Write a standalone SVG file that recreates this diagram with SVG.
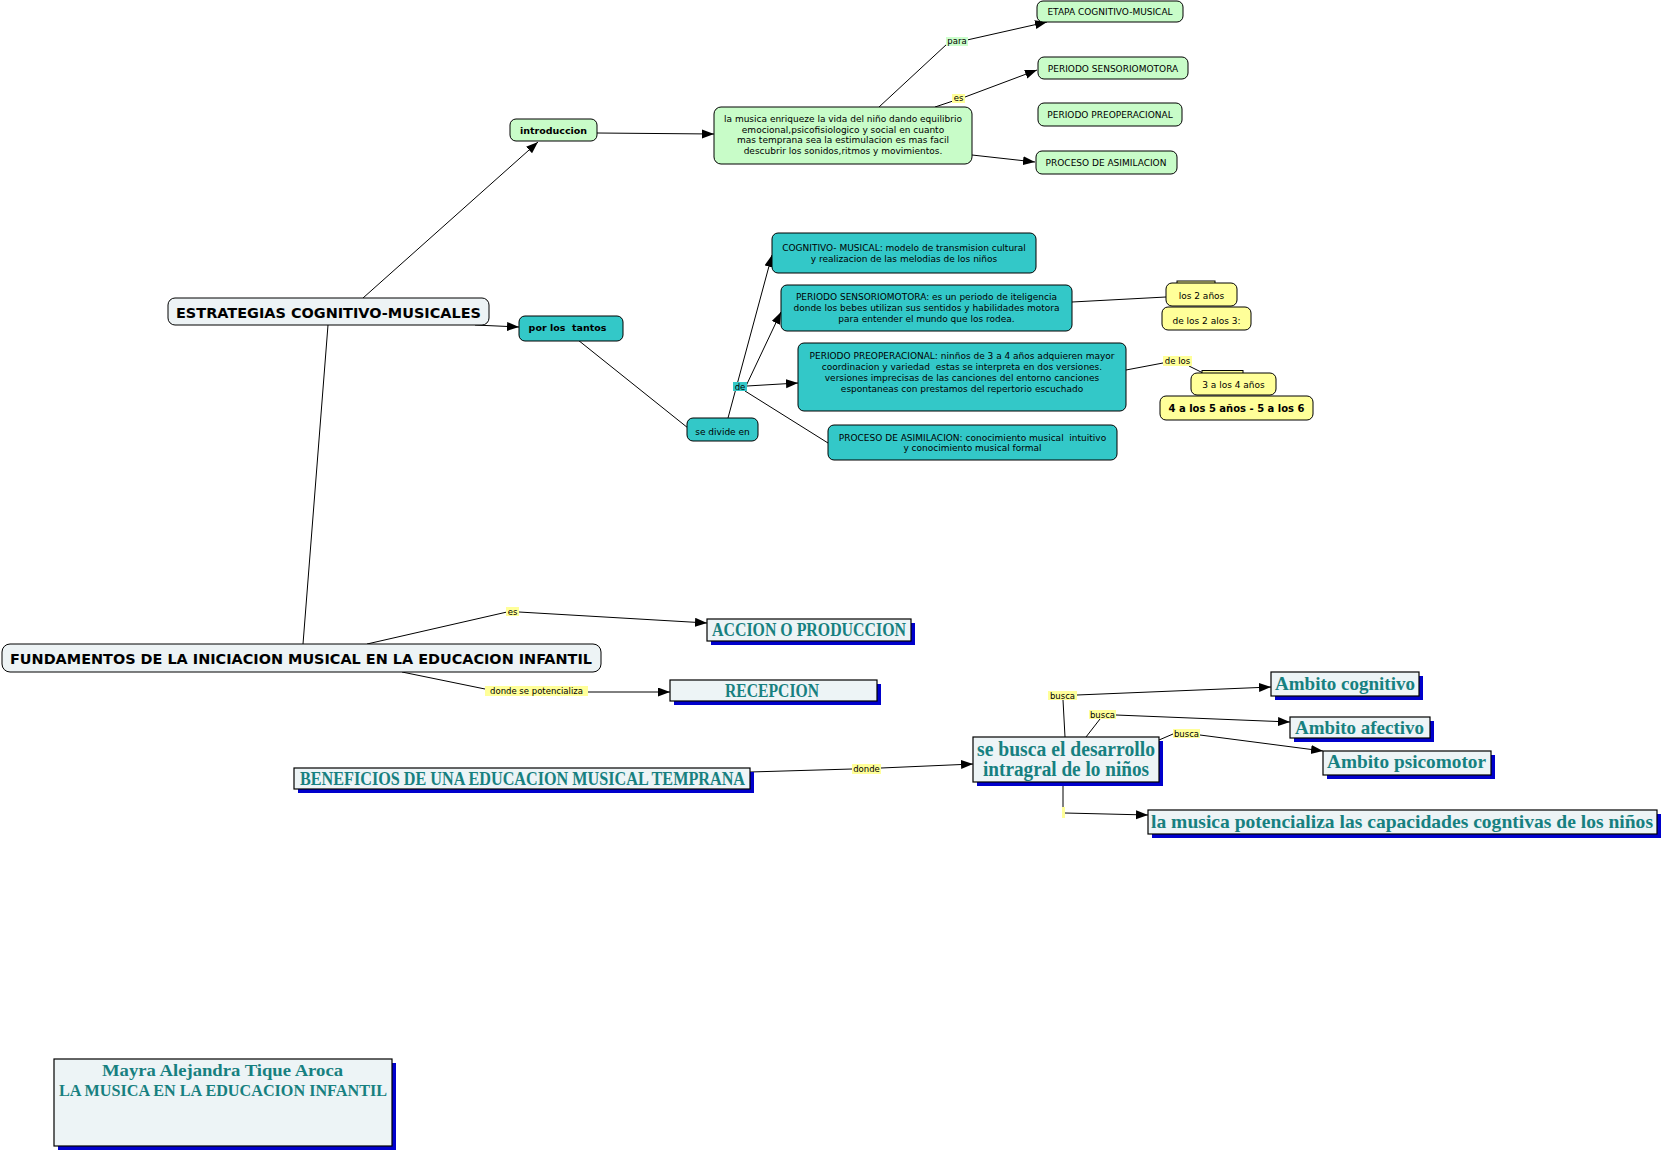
<svg xmlns="http://www.w3.org/2000/svg" width="1662" height="1153" viewBox="0 0 1662 1153">
<style>
.bg{fill:#ffffff}
.g{fill:#c8fcc8;stroke:#000;stroke-width:1}
.t{fill:#33c8c8;stroke:#000;stroke-width:1}
.y{fill:#ffff99;stroke:#000;stroke-width:1}
.w{fill:#edf3f5;stroke:#000;stroke-width:1}
.sb{fill:#edf4f6;stroke:#000;stroke-width:1.2}
.sh{fill:#0000cc}
.s{font-family:"DejaVu Sans","Liberation Sans",sans-serif;font-size:9px;fill:#000;text-anchor:middle}
.sbd{font-family:"DejaVu Sans","Liberation Sans",sans-serif;font-weight:bold;fill:#000;text-anchor:middle}
.lbl{font-family:"DejaVu Sans","Liberation Sans",sans-serif;font-size:8.5px;fill:#000;text-anchor:middle}
.ly{fill:#ffff99}
.lg{fill:#ccffcc}
.lt{fill:#33c8c8}
.sf{font-family:"Liberation Serif",serif;font-weight:bold;fill:#178080;text-anchor:middle}
.c{fill:none;stroke:#000;stroke-width:1}
</style>
<defs>
<marker id="ah" markerUnits="userSpaceOnUse" markerWidth="13" markerHeight="10" refX="12" refY="4.5" orient="auto"><path d="M0,0 L12,4.5 L0,9 z" fill="#000"/></marker>
</defs>
<rect class="bg" x="0" y="0" width="1662" height="1153"/>

<g id="connectors">
<path class="c" d="M363,298 L538,142" marker-end="url(#ah)"/>
<path class="c" d="M475,325 L519,327" marker-end="url(#ah)"/>
<path class="c" d="M328,325 L303,644"/>
<path class="c" d="M597,133 L714,134" marker-end="url(#ah)"/>
<path class="c" d="M879,107 L947,44"/>
<path class="c" d="M967,40 L1047,22" marker-end="url(#ah)"/>
<path class="c" d="M935,107 L953,101"/>
<path class="c" d="M965,97 L1037,70" marker-end="url(#ah)"/>
<path class="c" d="M972,155 L1035,162" marker-end="url(#ah)"/>
<path class="c" d="M578,340 L688,428"/>
<path class="c" d="M728,418 L772,255" marker-end="url(#ah)"/>
<path class="c" d="M746,386 L781,312" marker-end="url(#ah)"/>
<path class="c" d="M747,386 L798,383" marker-end="url(#ah)"/>
<path class="c" d="M745,391 L828,443"/>
<path class="c" d="M1072,302 L1166,297"/>
<path class="c" d="M1126,370 L1163,363"/>
<path class="c" d="M1189,366 L1203,373"/>
<path class="c" d="M367,644 L507,612"/>
<path class="c" d="M519,612 L707,623" marker-end="url(#ah)"/>
<path class="c" d="M402,672 L485,689"/>
<path class="c" d="M588,692 L670,692" marker-end="url(#ah)"/>
<path class="c" d="M750,772 L852,769"/>
<path class="c" d="M881,768 L973,764" marker-end="url(#ah)"/>
<path class="c" d="M1065,737 L1063,700"/>
<path class="c" d="M1077,695 L1271,687" marker-end="url(#ah)"/>
<path class="c" d="M1086,737 L1100,719"/>
<path class="c" d="M1116,715 L1290,722" marker-end="url(#ah)"/>
<path class="c" d="M1159,740 L1173,734"/>
<path class="c" d="M1200,735 L1323,751" marker-end="url(#ah)"/>
<path class="c" d="M1063,782 L1063,807"/>
<path class="c" d="M1065,813 L1148,815" marker-end="url(#ah)"/>
<!-- linking phrases -->
<rect class="lg" x="946" y="37" width="22" height="9"/><text class="lbl" x="957" y="44">para</text>
<rect class="ly" x="952" y="94" width="13" height="9"/><text class="lbl" x="958.5" y="101">es</text>
<rect class="lt" x="733" y="382" width="14" height="9"/><text class="lbl" x="740" y="389.5">de</text>
<rect class="ly" x="1163" y="356" width="29" height="10"/><text class="lbl" x="1177.5" y="364">de los</text>
<rect class="ly" x="506" y="607" width="13" height="9"/><text class="lbl" x="512.5" y="614.5">es</text>
<rect class="ly" x="485" y="686" width="103" height="10"/><text class="lbl" x="536.5" y="694">donde se potencializa</text>
<rect class="ly" x="852" y="764" width="29" height="10"/><text class="lbl" x="866.5" y="772">donde</text>
<rect class="ly" x="1048" y="691" width="29" height="9"/><text class="lbl" x="1062.5" y="698.5">busca</text>
<rect class="ly" x="1089" y="710" width="27" height="9"/><text class="lbl" x="1102.5" y="717.5">busca</text>
<rect class="ly" x="1173" y="729" width="27" height="9"/><text class="lbl" x="1186.5" y="736.5">busca</text>
<rect class="ly" x="1062" y="807" width="3" height="11"/>
</g>

<g id="n-etapa"><rect class="g" x="1037" y="1" width="146" height="21" rx="6"/><text class="s" x="1110" y="15">ETAPA COGNITIVO-MUSICAL</text></g>
<g id="n-sensorio-g"><rect class="g" x="1038" y="57" width="150" height="22" rx="6"/><text class="s" x="1113" y="72">PERIODO SENSORIOMOTORA</text></g>
<g id="n-preop-g"><rect class="g" x="1038" y="103" width="144" height="23" rx="6"/><text class="s" x="1110" y="118">PERIODO PREOPERACIONAL</text></g>
<g id="n-proceso-g"><rect class="g" x="1036" y="151" width="141" height="23" rx="6"/><text class="s" x="1106" y="166">PROCESO DE ASIMILACION</text></g>
<g id="n-lamusica"><rect class="g" x="714" y="107" width="258" height="57" rx="7"/>
<text class="s" x="843"><tspan x="843" y="122">la musica enriqueze la vida del niño dando equilibrio</tspan><tspan x="843" y="132.7">emocional,psicofisiologico y social en cuanto</tspan><tspan x="843" y="143.4">mas temprana sea la estimulacion es mas facil</tspan><tspan x="843" y="154">descubrir los sonidos,ritmos y movimientos.</tspan></text></g>
<g id="n-intro"><rect class="g" x="510" y="119" width="87" height="22" rx="6"/><text class="sbd" x="553.5" y="133.5" font-size="9.5">introduccion</text></g>
<g id="n-estrategias"><rect class="w" x="168" y="298" width="321" height="27" rx="7"/><text class="sbd" x="328.5" y="318" font-size="13.5" textLength="305" lengthAdjust="spacingAndGlyphs">ESTRATEGIAS COGNITIVO-MUSICALES</text></g>
<g id="n-porlostantos"><rect class="t" x="519" y="316" width="104" height="25" rx="6"/><text class="sbd" x="567.5" y="331" font-size="9.5" xml:space="preserve">por los  tantos</text></g>
<g id="n-sedivide"><rect class="t" x="687" y="418" width="71" height="23" rx="6"/><text class="s" x="722.5" y="434.5">se divide en</text></g>
<g id="n-cognitivo"><rect class="t" x="772" y="233" width="264" height="40" rx="6"/><text class="s"><tspan x="904" y="250.5">COGNITIVO- MUSICAL: modelo de transmision cultural</tspan><tspan x="904" y="261.5">y realizacion de las melodias de los niños</tspan></text></g>
<g id="n-sensorio-t"><rect class="t" x="781" y="285" width="291" height="46" rx="6"/><text class="s"><tspan x="926.5" y="299.5">PERIODO SENSORIOMOTORA: es un periodo de iteligencia</tspan><tspan x="926.5" y="310.5">donde los bebes utilizan sus sentidos y habilidades motora</tspan><tspan x="926.5" y="321.5">para entender el mundo que los rodea.</tspan></text></g>
<g id="n-preop-t"><rect class="t" x="798" y="343" width="328" height="68" rx="6"/><text class="s" xml:space="preserve"><tspan x="962" y="358.5">PERIODO PREOPERACIONAL: ninños de 3 a 4 años adquieren mayor</tspan><tspan x="962" y="369.5">coordinacion y variedad  estas se interpreta en dos versiones.</tspan><tspan x="962" y="380.5">versiones imprecisas de las canciones del entorno canciones</tspan><tspan x="962" y="391.5">espontaneas con prestamos del repertorio escuchado</tspan></text></g>
<g id="n-proceso-t"><rect class="t" x="828" y="425" width="289" height="35" rx="6"/><text class="s" xml:space="preserve"><tspan x="972.5" y="440.5">PROCESO DE ASIMILACION: conocimiento musical  intuitivo</tspan><tspan x="972.5" y="451">y conocimiento musical formal</tspan></text></g>
<g id="n-los2"><rect class="y" x="1177" y="281" width="38" height="6"/><rect class="y" x="1166" y="283" width="71" height="23" rx="6"/><text class="s" x="1201.5" y="298.5">los 2 años</text></g>
<g id="n-delos2"><rect class="y" x="1162" y="307" width="89" height="23" rx="6"/><text class="s" x="1206.5" y="323.5">de los 2 alos 3:</text></g>
<g id="n-3a4"><rect class="y" x="1202" y="370.5" width="41" height="6"/><rect class="y" x="1191" y="373" width="85" height="22" rx="6"/><text class="s" x="1233.5" y="388">3 a los 4 años</text></g>
<g id="n-4a5"><rect class="y" x="1160" y="396" width="153" height="24" rx="6"/><text class="sbd" x="1236.5" y="412" font-size="10.5" textLength="136" lengthAdjust="spacingAndGlyphs">4 a los 5 años - 5 a los 6</text></g>
<g id="n-fundamentos"><rect class="w" x="2" y="644" width="599" height="28" rx="8"/><text class="sbd" x="301" y="664" font-size="13.5" textLength="582" lengthAdjust="spacingAndGlyphs">FUNDAMENTOS DE LA INICIACION MUSICAL EN LA EDUCACION INFANTIL</text></g>

<g id="n-accion"><rect class="sh" x="711" y="623" width="204" height="22"/><rect class="sb" x="707" y="619" width="204" height="22"/><text class="sf" x="809" y="636" font-size="18" textLength="194" lengthAdjust="spacingAndGlyphs">ACCION O PRODUCCION</text></g>
<g id="n-recepcion"><rect class="sh" x="674" y="684" width="207" height="21"/><rect class="sb" x="670" y="680" width="207" height="21"/><text class="sf" x="772" y="697" font-size="18" textLength="94" lengthAdjust="spacingAndGlyphs">RECEPCION</text></g>
<g id="n-beneficios"><rect class="sh" x="298" y="772" width="456" height="21"/><rect class="sb" x="294" y="768" width="456" height="21"/><text class="sf" x="522.5" y="785" font-size="18" textLength="445" lengthAdjust="spacingAndGlyphs">BENEFICIOS DE UNA EDUCACION MUSICAL TEMPRANA</text></g>
<g id="n-sebusca"><rect class="sh" x="977" y="741" width="186" height="45"/><rect class="sb" x="973" y="737" width="186" height="45"/><text class="sf" font-size="20"><tspan x="1066" y="756" textLength="178" lengthAdjust="spacingAndGlyphs">se busca el desarrollo</tspan><tspan x="1066" y="775.5" textLength="166" lengthAdjust="spacingAndGlyphs">intragral de lo niños</tspan></text></g>
<g id="n-cognitivo-a"><rect class="sh" x="1275" y="676" width="148" height="24"/><rect class="sb" x="1271" y="672" width="148" height="24"/><text class="sf" x="1345" y="689.5" font-size="19" textLength="140" lengthAdjust="spacingAndGlyphs">Ambito cognitivo</text></g>
<g id="n-afectivo"><rect class="sh" x="1294" y="721" width="140" height="21"/><rect class="sb" x="1290" y="717" width="140" height="21"/><text class="sf" x="1359.5" y="733.5" font-size="19" textLength="129" lengthAdjust="spacingAndGlyphs">Ambito afectivo</text></g>
<g id="n-psicomotor"><rect class="sh" x="1327" y="755" width="168" height="24"/><rect class="sb" x="1323" y="751" width="168" height="24"/><text class="sf" x="1406.5" y="767.5" font-size="19" textLength="159" lengthAdjust="spacingAndGlyphs">Ambito psicomotor</text></g>
<g id="n-potencializa"><rect class="sh" x="1152" y="814" width="509" height="24"/><rect class="sb" x="1148" y="810" width="509" height="24"/><text class="sf" x="1402" y="827.5" font-size="19" textLength="502" lengthAdjust="spacingAndGlyphs">la musica potencializa las capacidades cogntivas de los niños</text></g>
<g id="n-mayra"><rect class="sh" x="58" y="1063" width="338" height="87"/><rect class="sb" x="54" y="1059" width="338" height="87"/><text class="sf" font-size="17"><tspan x="222.5" y="1075.5" textLength="241" lengthAdjust="spacingAndGlyphs">Mayra Alejandra Tique Aroca</tspan><tspan x="223" y="1096" textLength="328" lengthAdjust="spacingAndGlyphs">LA MUSICA EN LA EDUCACION INFANTIL</tspan></text></g>
</svg>
